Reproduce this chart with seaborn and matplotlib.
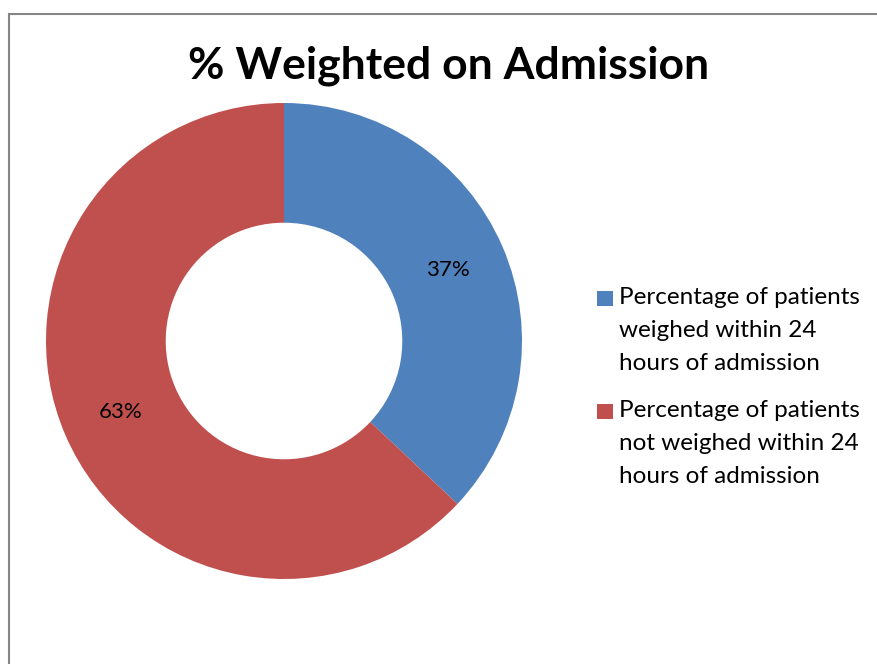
import matplotlib
matplotlib.use("Agg")
import matplotlib.pyplot as plt
from matplotlib.patches import Rectangle
import numpy as np
import seaborn as sns

title = "% Weighted on Admission"
categories = ["Percentage of patients\nweighed within 24\nhours of admission",
              "Percentage of patients\nnot weighed within 24\nhours of admission"]
values = [37, 63]
pct_labels = ["37%", "63%"]
colors = ["#4F81BD", "#C0504D"]

sns.set_theme(style="white")
plt.rcParams['font.family'] = ['Lato', 'DejaVu Sans']

W, H = 877, 664
fig = plt.figure(figsize=(W / 100, H / 100), dpi=100)
ax = fig.add_axes([0, 0, 1, 1])
ax.set_xlim(0, W)
ax.set_ylim(0, H)
ax.set_aspect('equal')
ax.axis('off')

# chart border
fig.patches.append(Rectangle((8.5 / W, -0.05), 1.2, (H - 13.5) / H + 0.05,
                             transform=fig.transFigure, fill=False,
                             edgecolor="#868686", linewidth=1.5))

cx, cy, R = 284, H - 341, 238
wedges, _ = ax.pie(values, colors=colors, startangle=90, counterclock=False,
                   center=(cx, cy), radius=R,
                   wedgeprops=dict(width=R * 0.503, edgecolor="none"))
ax.set_xlim(0, W)
ax.set_ylim(0, H)

ang = 90.0
total = sum(values)
for v, lab in zip(values, pct_labels):
    mid = ang - v / total * 360 / 2
    ang -= v / total * 360
    rr = R * 0.75
    ax.text(cx + rr * np.cos(np.radians(mid)), cy + rr * np.sin(np.radians(mid)),
            lab, ha="center", va="center", fontsize=16, color="black")

fig.text(449 / W, 1 - 66 / H, title, ha="center", va="center",
         fontsize=32, fontweight="bold", color="black")

# legend
legend_tops = [298, 411]
for lab, col, y in zip(categories, colors, legend_tops):
    ax.add_patch(Rectangle((597, H - y - 7.5), 16, 15, facecolor=col, edgecolor="none"))
    ax.text(619, H - y + 11, lab, ha="left", va="top", fontsize=17.5, color="black",
            linespacing=1.72)

fig.savefig("out.png", dpi=100)
